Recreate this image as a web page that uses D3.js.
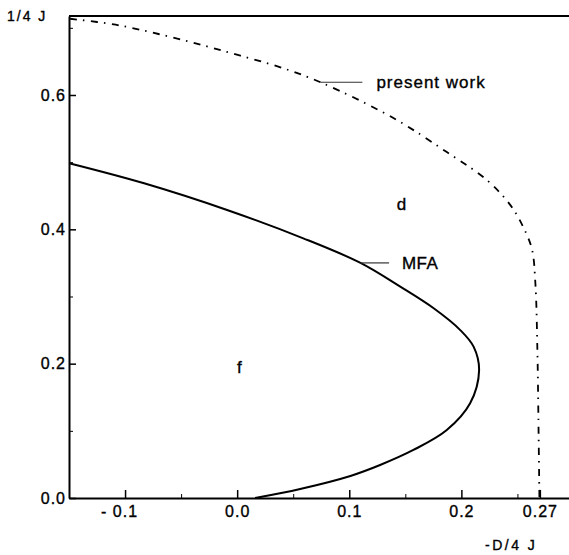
<!DOCTYPE html>
<html>
<head>
<meta charset="utf-8">
<script src="https://cdn.jsdelivr.net/npm/d3@7"></script>
<style>
  body { margin: 0; background: #fff; }
  svg { display: block; font-family: "Liberation Sans", Arial, sans-serif; }
  svg text { fill: #000; stroke: #000; stroke-width: 0.35px; }
  .axis path, .axis line { stroke: #000; }
  .axis text { font-size: 16px; letter-spacing: 1px; }
</style>
</head>
<body>
<svg id="chart"></svg>
<script>
// ---------------- data ----------------
var xTicks = [-0.1, 0.0, 0.1, 0.2, 0.27];
var xTickLabels = ["- 0.1", "0.0", "0.1", "0.2", "0.27"];
var xMinorTicks = [-0.05, 0.05, 0.15, 0.25];

var yTicks = [0.0, 0.2, 0.4, 0.6];
var yTickLabels = ["0.0", "0.2", "0.4", "0.6"];
var yMinorTicks = [0.1, 0.3, 0.5, 0.7];

// MFA boundary (solid)
var mfaX = [-0.149, -0.083, -0.009, 0.059, 0.110, 0.1455, 0.1753, 0.199, 0.211, 0.2158, 0.2078, 0.187, 0.1572, 0.1275, 0.101, 0.0562, 0.016];
var mfaY = [0.498, 0.4685, 0.4288, 0.3866, 0.350, 0.3146, 0.2824, 0.250, 0.225, 0.190, 0.141, 0.1012, 0.0715, 0.0491, 0.0328, 0.0134, 0.0];

// present work boundary (dash-dot)
var presentX = [-0.149, -0.1084, -0.0702, -0.0327, 0.0029, 0.0386, 0.0743, 0.139, 0.187, 0.223, 0.2437, 0.2553, 0.263, 0.266, 0.2678, 0.2687, 0.2696];
var presentY = [0.7135, 0.7046, 0.6908, 0.6749, 0.6585, 0.6412, 0.619, 0.566, 0.515, 0.473, 0.436, 0.403, 0.370, 0.320, 0.220, 0.120, 0.0];

// ---------------- layout ----------------
var width = 569, height = 555;
var plotLeft = 69, plotTop = 16, plotRight = 569, plotBottom = 498;

var svg = d3.select('#chart')
    .attr('width', width)
    .attr('height', height);

var xScale = d3.scaleLinear()
    .domain([-0.15, 0.296])
    .range([plotLeft, plotRight]);

var yScale = d3.scaleLinear()
    .domain([0, 0.7176])
    .range([plotBottom, plotTop]);

// minor ticks (inward, no labels)
svg.append('g')
    .attr('class', 'axis')
    .attr('transform', 'translate(0,' + plotBottom + ')')
    .call(d3.axisBottom(xScale).tickValues(xMinorTicks).tickSize(-4).tickFormat(''))
    .call(g => g.select('.domain').remove());

svg.append('g')
    .attr('class', 'axis')
    .attr('transform', 'translate(' + plotLeft + ',0)')
    .call(d3.axisLeft(yScale).tickValues(yMinorTicks).tickSize(-4).tickFormat(''))
    .call(g => g.select('.domain').remove());

// major ticks
var xAxis = svg.append('g')
    .attr('class', 'axis')
    .attr('transform', 'translate(0,' + plotBottom + ')')
    .call(d3.axisBottom(xScale)
        .tickValues(xTicks)
        .tickSize(-8)
        .tickSizeOuter(0)
        .tickPadding(8)
        .tickFormat((d, i) => xTickLabels[i]));

xAxis.select('.domain').attr('stroke-width', 2);
xAxis.selectAll('.tick line').attr('stroke-width', 1.5);
xAxis.selectAll('.tick text')
    .attr('dx', (d) => d < 0 ? '-6' : '0');

var yAxis = svg.append('g')
    .attr('class', 'axis')
    .attr('transform', 'translate(' + plotLeft + ',0)')
    .call(d3.axisLeft(yScale)
        .tickValues(yTicks)
        .tickSize(-7)
        .tickSizeOuter(0)
        .tickPadding(3)
        .tickFormat((d, i) => yTickLabels[i]));

yAxis.select('.domain').attr('stroke-width', 2);
yAxis.selectAll('.tick line').attr('stroke-width', 1.5);

// top frame line
svg.append('line')
    .attr('x1', plotLeft).attr('x2', plotRight)
    .attr('y1', plotTop).attr('y2', plotTop)
    .attr('stroke', '#000')
    .attr('stroke-width', 2);

// ---------------- curves ----------------
var line = d3.line()
    .x(d => xScale(d[0]))
    .y(d => yScale(d[1]))
    .curve(d3.curveCatmullRom.alpha(0.5));

svg.append('path')
    .datum(mfaX.map((x, i) => [x, mfaY[i]]))
    .attr('d', line)
    .attr('fill', 'none')
    .attr('stroke', '#000')
    .attr('stroke-width', 2);

svg.append('path')
    .datum(presentX.map((x, i) => [x, presentY[i]]))
    .attr('d', line)
    .attr('fill', 'none')
    .attr('stroke', '#000')
    .attr('stroke-width', 1.8)
    .attr('stroke-dasharray', '7,6,1.5,6.5');

// ---------------- labels ----------------
function label(x, y, txt, size, spacing, anchor) {
    svg.append('text')
        .attr('x', x)
        .attr('y', y)
        .attr('dy', '0.35em')
        .attr('text-anchor', anchor || 'start')
        .style('font-size', size + 'px')
        .style('letter-spacing', spacing + 'px')
        .text(txt);
}

// pointer lines
svg.append('line')
    .attr('x1', xScale(0.0743)).attr('x2', xScale(0.1117))
    .attr('y1', yScale(0.619)).attr('y2', yScale(0.619))
    .attr('stroke', '#333').attr('stroke-width', 1.2);

svg.append('line')
    .attr('x1', xScale(0.110)).attr('x2', xScale(0.1355))
    .attr('y1', yScale(0.350)).attr('y2', yScale(0.350))
    .attr('stroke', '#333').attr('stroke-width', 1.2);

label(xScale(0.1242), yScale(0.619), 'present work', 17, 1);
label(xScale(0.147), yScale(0.350), 'MFA', 17, 0.5);
label(xScale(0.1465), yScale(0.4377), 'd', 17, 0, 'middle');
label(xScale(0.002), yScale(0.195), 'f', 17, 0, 'middle');

label(7, 16, '1/4 J', 14, 2);
label(485, 545, '-D/4 J', 14, 2.5);
</script>
</body>
</html>
